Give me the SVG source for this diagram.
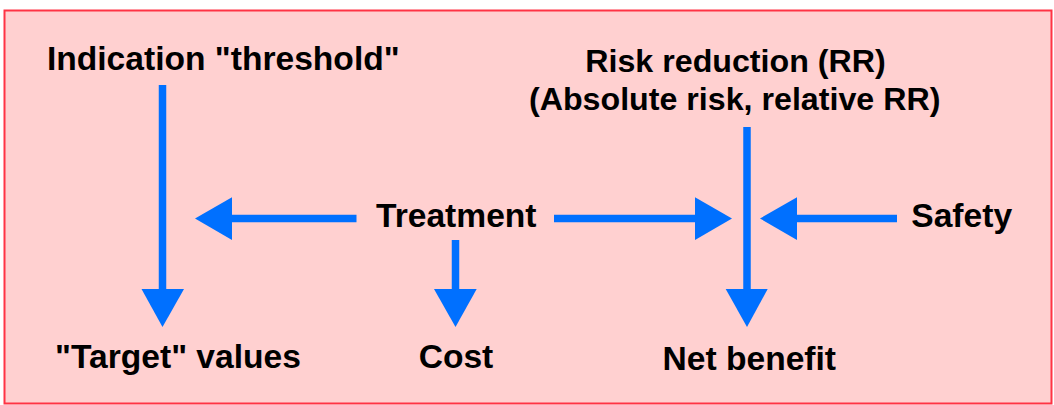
<svg xmlns="http://www.w3.org/2000/svg" width="1054" height="405" viewBox="0 0 1054 405">
<style>
.t{font-family:"Liberation Sans",Arial,sans-serif;font-weight:bold;font-size:33.6px;fill:#000;text-anchor:middle}
.r{font-size:32.2px}
.s{stroke:#0070FF;stroke-width:7.5;fill:none}
.h{fill:#0070FF}
</style>
<rect x="4.5" y="10.5" width="1047" height="393" fill="#FFD0D0" stroke="#FF3344" stroke-width="2"/>
<g id="indication"><text class="t" x="223.3" y="70">Indication "threshold"</text></g>
<g id="risk"><text class="t r" x="735.5" y="71.5">Risk reduction (RR)</text><text class="t r" x="734.7" y="110">(Absolute risk, relative RR)</text></g>
<g id="treatment"><text class="t" x="456.3" y="227">Treatment</text></g>
<g id="safety"><text class="t" x="961.7" y="227">Safety</text></g>
<g id="target"><text class="t" x="178" y="368">"Target" values</text></g>
<g id="cost"><text class="t" x="456" y="368">Cost</text></g>
<g id="netbenefit"><text class="t" x="749.3" y="370">Net benefit</text></g>
<g id="connectors">
<line class="s" x1="162.5" y1="85" x2="162.5" y2="291"/>
<polygon class="h" points="141.5,289 184,289 162.5,327"/>
<line class="s" x1="356.5" y1="218.5" x2="229" y2="218.5"/>
<polygon class="h" points="232,197.3 232,240 195,218.5"/>
<line class="s" x1="554" y1="218.5" x2="697" y2="218.5"/>
<polygon class="h" points="695,197.3 695,240 732,218.5"/>
<line class="s" x1="897" y1="218.5" x2="794" y2="218.5"/>
<polygon class="h" points="797,197.3 797,240 760,218.5"/>
<line class="s" x1="747" y1="127" x2="747" y2="291"/>
<polygon class="h" points="725.7,289 767.7,289 747,327"/>
<line class="s" x1="455.5" y1="240" x2="455.5" y2="291"/>
<polygon class="h" points="434,289 476.7,289 455.5,327"/>
</g>
</svg>
